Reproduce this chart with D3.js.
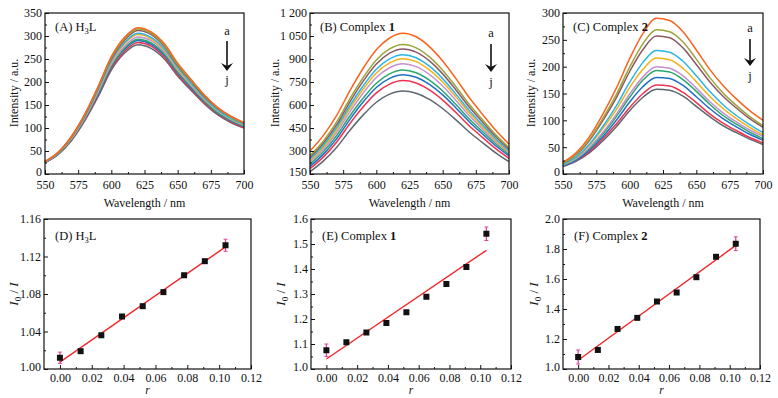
<!DOCTYPE html>
<html>
<head>
<meta charset="utf-8">
<script src="https://cdn.jsdelivr.net/npm/d3@7"></script>
<style>
  body { margin: 0; background: #fff; }
  svg text { font-family: "Liberation Serif", "DejaVu Serif", serif; fill: #111; }
  .tick text { font-size: 12px; }
</style>
</head>
<body>
<svg id="chart" width="778" height="398"></svg>
<script>
// wavelengths (nm) sampled for every spectrum
var wavelength = [550, 560, 570, 580, 590, 600, 610, 620, 630, 640, 650, 660, 670, 680, 690, 700]
var curveNames = ["a", "b", "c", "d", "e", "f", "g", "h", "i", "j"]
var curveColors = ["#f9641e", "#9aa43a", "#8b5a66", "#28b6e6", "#f4b019",
                   "#c490d1", "#2ca66c", "#1f6fc5", "#ee3350", "#5e6870"]

// (A) H3L
var spectraA = [
  [27, 47, 82, 130, 190, 255, 297, 318, 309, 283, 241, 206, 172, 145, 126, 112],
  [27, 47, 81, 129, 188, 253, 294, 315, 306, 280, 238, 204, 171, 144, 125, 111],
  [27, 47, 81, 128, 187, 250, 291, 312, 303, 277, 236, 202, 169, 143, 124, 110],
  [26, 45, 79, 125, 183, 246, 286, 306, 297, 272, 232, 198, 166, 140, 121, 108],
  [26, 45, 78, 124, 181, 243, 283, 303, 294, 269, 229, 196, 164, 139, 120, 107],
  [26, 45, 77, 122, 178, 239, 278, 298, 290, 265, 226, 193, 162, 137, 119, 106],
  [26, 44, 76, 121, 176, 235, 274, 293, 285, 261, 222, 190, 159, 134, 117, 104],
  [25, 43, 75, 119, 173, 233, 271, 290, 282, 258, 220, 188, 158, 133, 116, 103],
  [25, 43, 74, 117, 171, 230, 267, 286, 278, 254, 216, 185, 155, 131, 114, 101],
  [25, 43, 73, 116, 168, 226, 263, 281, 273, 250, 213, 182, 153, 129, 112, 100]
]
// (B) Complex 1
var spectraB = [
  [300, 400, 530, 692, 838, 960, 1037, 1068, 1045, 981, 887, 772, 649, 540, 435, 345],
  [270, 364, 488, 640, 778, 894, 966, 995, 973, 914, 827, 719, 605, 504, 406, 322],
  [258, 350, 470, 619, 754, 867, 938, 966, 945, 888, 803, 698, 587, 489, 394, 312],
  [248, 336, 452, 595, 724, 833, 901, 928, 908, 853, 772, 671, 565, 471, 380, 302],
  [238, 324, 437, 577, 703, 809, 875, 902, 883, 829, 750, 653, 550, 459, 371, 295],
  [228, 311, 420, 555, 677, 779, 843, 869, 850, 799, 724, 630, 531, 444, 360, 287],
  [215, 295, 399, 528, 644, 742, 803, 828, 810, 762, 691, 603, 509, 427, 347, 278],
  [200, 278, 379, 505, 619, 714, 774, 798, 781, 734, 666, 581, 491, 411, 334, 268],
  [185, 260, 357, 478, 587, 679, 736, 759, 743, 698, 632, 551, 465, 389, 315, 252],
  [165, 234, 323, 434, 534, 618, 671, 692, 677, 637, 577, 503, 424, 355, 288, 230]
]
// (C) Complex 2
var spectraC = [
  [22, 40, 70, 112, 160, 215, 262, 290, 286, 265, 231, 195, 165, 140, 118, 100],
  [20, 37, 65, 104, 148, 199, 243, 269, 265, 246, 214, 180, 151, 128, 107, 90],
  [20, 36, 63, 100, 142, 191, 232, 257, 254, 235, 204, 172, 145, 123, 103, 87],
  [18, 32, 56, 89, 127, 171, 208, 230, 227, 210, 183, 154, 129, 109, 92, 77],
  [18, 31, 54, 85, 120, 161, 195, 216, 213, 197, 172, 145, 122, 103, 87, 73],
  [17, 29, 50, 78, 111, 149, 181, 200, 197, 183, 160, 135, 114, 97, 82, 70],
  [16, 28, 48, 75, 107, 143, 175, 193, 190, 176, 154, 130, 109, 93, 78, 66],
  [15, 26, 45, 70, 100, 134, 163, 180, 178, 165, 144, 122, 103, 88, 74, 63],
  [15, 25, 42, 66, 93, 124, 150, 166, 164, 152, 133, 112, 95, 81, 68, 58],
  [14, 24, 40, 62, 88, 118, 143, 158, 156, 145, 126, 107, 90, 77, 65, 55]
]

// Stern-Volmer data
var ratio = [0, 0.013, 0.026, 0.039, 0.052, 0.065, 0.078, 0.091, 0.104]
var quenchD = [1.012, 1.019, 1.036, 1.056, 1.067, 1.082, 1.100, 1.115, 1.132]
var quenchE = [1.075, 1.107, 1.146, 1.184, 1.227, 1.289, 1.340, 1.408, 1.541]
var quenchF = [1.080, 1.127, 1.267, 1.341, 1.450, 1.510, 1.612, 1.748, 1.835]
var errD = [0.006, 0, 0, 0, 0, 0, 0, 0, 0.0065]
var errE = [0.025, 0, 0, 0, 0, 0, 0, 0, 0.027]
var errF = [0.047, 0, 0, 0, 0, 0, 0, 0, 0.046]

// tick values
var wlTicks = [550, 575, 600, 625, 650, 675, 700]
var wlMinor = [562.5, 587.5, 612.5, 637.5, 662.5, 687.5]
var yTicksA = [0, 50, 100, 150, 200, 250, 300, 350]
var yTicksB = [150, 300, 450, 600, 750, 900, 1050, 1200]
var yTicksC = [0, 50, 100, 150, 200, 250, 300]
var rTicks = [0, 0.02, 0.04, 0.06, 0.08, 0.10, 0.12]
var yTicksD = [1.00, 1.04, 1.08, 1.12, 1.16]
var yTicksE = [1.0, 1.1, 1.2, 1.3, 1.4, 1.5, 1.6]
var yTicksF = [1.0, 1.2, 1.4, 1.6, 1.8, 2.0]

var svg = d3.select("#chart")
var spaceFmt = d3.formatLocale({decimal: ".", thousands: " ", grouping: [3], currency: ["", ""]}).format(",d")

function midpoints(t) {
  var m = []
  for (var i = 0; i < t.length - 1; i++) m.push((t[i] + t[i + 1]) / 2)
  return m
}

function frame(g, x, y, xt, xminor, yt, xfmt, yfmt, pad) {
  var x0 = x.range()[0], x1 = x.range()[1]
  var y0 = y.range()[1], y1 = y.range()[0]

  g.append("g").attr("transform", "translate(0," + y1 + ")")
    .call(d3.axisBottom(x).tickValues(xminor).tickSizeInner(-2).tickSizeOuter(0).tickFormat(""))
  g.append("g").attr("transform", "translate(0," + y1 + ")")
    .call(d3.axisBottom(x).tickValues(xt).tickSizeInner(-4).tickSizeOuter(0).tickPadding(pad).tickFormat(xfmt))
  g.append("g").attr("transform", "translate(" + x0 + ",0)")
    .call(d3.axisLeft(y).tickValues(midpoints(yt)).tickSizeInner(-2).tickSizeOuter(0).tickFormat(""))
  var ya = g.append("g").attr("transform", "translate(" + x0 + ",0)")
    .call(d3.axisLeft(y).tickValues(yt).tickSizeInner(-4).tickSizeOuter(0).tickPadding(3).tickFormat(yfmt))
  // lift the corner label a little so it clears the x labels
  ya.selectAll(".tick text").filter(function(d, i) { return i === 0 }).attr("dy", "0.1em")
  g.selectAll(".domain").remove()
  g.selectAll("g").attr("font-family", null).attr("font-size", null)
  g.selectAll(".tick line").attr("stroke", "#111").attr("stroke-width", 1)

  g.append("rect")
    .attr("x", x0).attr("y", y0)
    .attr("width", x1 - x0).attr("height", y1 - y0)
    .attr("fill", "none").attr("stroke", "#111").attr("stroke-width", 1.2)
}

function panelTitle(g, x, y, letter, name, sub, tail, bold) {
  var t = g.append("text").attr("x", x).attr("y", y).attr("font-size", 12.5)
  t.append("tspan").text("(" + letter + ") " + name)
  if (sub) {
    t.append("tspan").attr("font-size", 8.5).attr("dy", 3).text(sub)
    t.append("tspan").attr("dy", -3).text(tail)
  }
  if (bold) t.append("tspan").attr("font-weight", "bold").text(bold)
}

// ---- top row: emission spectra ----
var topPanels = [
  {letter: "A", name: "H", sub: "3", tail: "L", data: spectraA, left: 45, right: 244,
   dom: [0, 350], ticks: yTicksA, fmt: d3.format("d"), ylab: 14, arrow: [227, 35, 41, 71, 84]},
  {letter: "B", name: "Complex ", bold: "1", data: spectraB, left: 310, right: 509,
   dom: [150, 1200], ticks: yTicksB, fmt: spaceFmt, ylab: 275, arrow: [491, 37, 44, 72, 86]},
  {letter: "C", name: "Complex ", bold: "2", data: spectraC, left: 563, right: 763,
   dom: [0, 300], ticks: yTicksC, fmt: d3.format("d"), ylab: 531, arrow: [750, 32, 39, 66, 80]}
]

topPanels.forEach(function(p) {
  var g = svg.append("g")
  var x = d3.scaleLinear().domain([550, 700]).range([p.left, p.right])
  var y = d3.scaleLinear().domain(p.dom).range([174, 13])

  var line = d3.line()
    .x(function(d, i) { return x(wavelength[i]) })
    .y(function(d) { return y(d) })
    .curve(d3.curveMonotoneX)

  g.append("g").selectAll("path")
    .data(p.data.slice().reverse())
    .enter().append("path")
    .attr("d", line)
    .attr("fill", "none")
    .attr("stroke", function(d, i) { return curveColors[curveColors.length - 1 - i] })
    .attr("stroke-width", 1.5)

  frame(g, x, y, wlTicks, wlMinor, p.ticks, d3.format("d"), p.fmt, 6)
  panelTitle(g, p.left + 10, 31, p.letter, p.name, p.sub, p.tail, p.bold)

  g.append("text")
    .attr("x", (p.left + p.right) / 2).attr("y", 207)
    .attr("text-anchor", "middle").attr("font-size", 12)
    .text("Wavelength / nm")
  g.append("text")
    .attr("transform", "translate(" + p.ylab + ",93) rotate(-90)")
    .attr("text-anchor", "middle").attr("dy", "0.35em").attr("font-size", 12)
    .text("Intensity / a.u.")

  // a -> j arrow
  var a = p.arrow
  g.append("text").attr("x", a[0]).attr("y", a[1]).attr("text-anchor", "middle")
    .attr("font-size", 12.5).text(curveNames[0])
  g.append("line").attr("x1", a[0]).attr("x2", a[0]).attr("y1", a[2]).attr("y2", a[3] - 4)
    .attr("stroke", "#111").attr("stroke-width", 1.6)
  g.append("path")
    .attr("d", "M" + (a[0] - 6) + "," + (a[3] - 8) + "L" + a[0] + "," + a[3] + "L" + (a[0] + 6) + "," + (a[3] - 8) +
               "L" + a[0] + "," + (a[3] - 5) + "Z")
    .attr("fill", "#111")
  g.append("text").attr("x", a[0]).attr("y", a[4]).attr("text-anchor", "middle")
    .attr("font-size", 12.5).text(curveNames[9])
})

// ---- bottom row: I0/I vs r ----
var bottomPanels = [
  {letter: "D", name: "H", sub: "3", tail: "L", vals: quenchD, err: errD, left: 44, right: 251,
   dom: [1.0, 1.16], ticks: yTicksD, fmt: d3.format(".2f"), ylab: 13},
  {letter: "E", name: "Complex ", bold: "1", vals: quenchE, err: errE, left: 311, right: 511,
   dom: [1.0, 1.6], ticks: yTicksE, fmt: d3.format(".1f"), ylab: 280},
  {letter: "F", name: "Complex ", bold: "2", vals: quenchF, err: errF, left: 563, right: 760,
   dom: [1.0, 2.0], ticks: yTicksF, fmt: d3.format(".1f"), ylab: 533}
]

bottomPanels.forEach(function(p) {
  var g = svg.append("g")
  var x = d3.scaleLinear().domain([-0.01, 0.12]).range([p.left, p.right])
  var y = d3.scaleLinear().domain(p.dom).range([369, 219])

  // least-squares line through the points
  var mx = d3.mean(ratio), my = d3.mean(p.vals)
  var sxy = d3.sum(ratio, function(r, i) { return (r - mx) * (p.vals[i] - my) })
  var sxx = d3.sum(ratio, function(r) { return (r - mx) * (r - mx) })
  var k = sxy / sxx, b = my - k * mx
  var ends = [ratio[0], ratio[ratio.length - 1]]

  frame(g, x, y, rTicks, midpoints(rTicks), p.ticks, d3.format(".2f"), p.fmt, 4)

  g.append("line")
    .attr("x1", x(ends[0])).attr("y1", y(b + k * ends[0]))
    .attr("x2", x(ends[1])).attr("y2", y(b + k * ends[1]))
    .attr("stroke", "#f0262b").attr("stroke-width", 1.4)

  p.err.forEach(function(e, i) {
    if (!e) return
    var cx = x(ratio[i])
    g.append("line").attr("x1", cx).attr("x2", cx)
      .attr("y1", y(p.vals[i] - e)).attr("y2", y(p.vals[i] + e))
      .attr("stroke", "#e0449a").attr("stroke-width", 1.3)
    ;[-e, e].forEach(function(s) {
      g.append("line").attr("x1", cx - 2).attr("x2", cx + 2)
        .attr("y1", y(p.vals[i] + s)).attr("y2", y(p.vals[i] + s))
        .attr("stroke", "#e0449a").attr("stroke-width", 1)
    })
  })

  g.append("g").selectAll("rect")
    .data(p.vals)
    .enter().append("rect")
    .attr("x", function(d, i) { return x(ratio[i]) - 3 })
    .attr("y", function(d) { return y(d) - 3 })
    .attr("width", 6).attr("height", 6)
    .attr("fill", "#111")

  panelTitle(g, p.left + 11, 240, p.letter, p.name, p.sub, p.tail, p.bold)

  g.append("text")
    .attr("x", x(0.055)).attr("y", 394)
    .attr("text-anchor", "middle").attr("font-size", 11.5).attr("font-style", "italic")
    .text("r")

  var yl = g.append("text")
    .attr("transform", "translate(" + p.ylab + ",294) rotate(-90)")
    .attr("text-anchor", "middle").attr("dy", "0.35em").attr("font-size", 13)
  yl.append("tspan").attr("font-style", "italic").text("I")
  yl.append("tspan").attr("font-size", 9).attr("dy", 3).text("0")
  yl.append("tspan").attr("dy", -3).text(" / ")
  yl.append("tspan").attr("font-style", "italic").text("I")
})
</script>
</body>
</html>
